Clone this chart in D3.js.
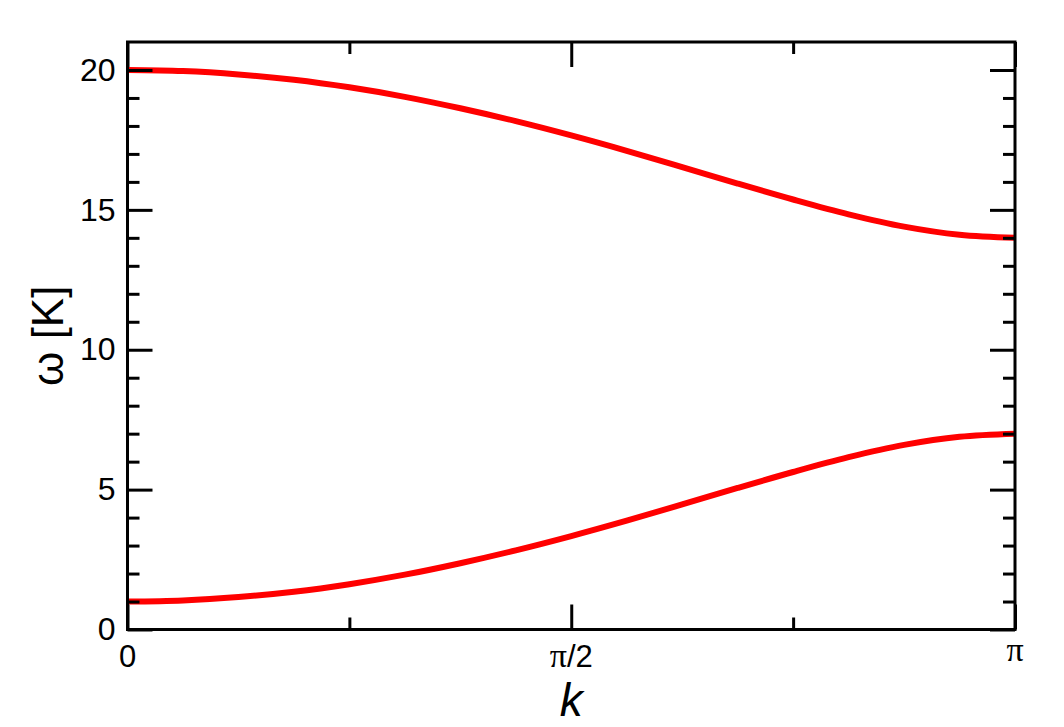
<!DOCTYPE html>
<html>
<head>
<meta charset="utf-8">
<script src="https://cdn.jsdelivr.net/npm/d3@7"></script>
<style>
  body { margin: 0; background: #fff; }
  text { font-family: "Liberation Sans", Arial, sans-serif; fill: #000; }
</style>
</head>
<body>
<svg id="chart" width="1064" height="727"></svg>
<script>
// k in units of pi
var kOverPi = [0, 0.0625, 0.125, 0.1875, 0.25, 0.3125, 0.375, 0.4375, 0.5,
               0.5625, 0.625, 0.6875, 0.75, 0.8125, 0.875, 0.9375, 1];
var upperBranch = [20.0, 19.96, 19.84, 19.65, 19.38, 19.04, 18.63, 18.17, 17.66,
                   17.11, 16.53, 15.94, 15.37, 14.84, 14.40, 14.11, 14.0];
var lowerBranch = [1.0, 1.04, 1.16, 1.35, 1.62, 1.96, 2.37, 2.83, 3.34,
                   3.89, 4.47, 5.06, 5.63, 6.16, 6.60, 6.89, 7.0];

var xMajorTicks = [0, 0.5, 1];
var xMajorLabels = ["0", "π/2", "π"];
var xMinorTicks = [0.25, 0.75];
var yMajorTicks = [0, 5, 10, 15, 20];
var yMinorTicks = [1, 2, 3, 4, 6, 7, 8, 9, 11, 12, 13, 14, 16, 17, 18, 19];

var plotLeft = 127.5, plotRight = 1015, plotTop = 42, plotBottom = 629.5;

var svg = d3.select("#chart");
var x = d3.scaleLinear().domain([0, 1]).range([plotLeft, plotRight]);
var y = d3.scaleLinear().domain([0, 21]).range([plotBottom, plotTop]);

// curves
var line = d3.line()
  .x(function(d) { return x(d.k); })
  .y(function(d) { return y(d.w); })
  .curve(d3.curveCatmullRom);

[upperBranch, lowerBranch].forEach(function(series) {
  var pts = series.map(function(v, i) { return {k: kOverPi[i], w: v}; });
  svg.append("path")
    .datum(pts)
    .attr("d", line)
    .attr("fill", "none")
    .attr("stroke", "#ff0000")
    .attr("stroke-width", 6);
});

// ticks on all four sides, pointing inward
function tickGroup(axis, tx, ty) {
  var g = svg.append("g").attr("transform", "translate(" + tx + "," + ty + ")").call(axis);
  g.select(".domain").remove();
  g.selectAll(".tick line").attr("stroke", "#000").attr("stroke-width", 3);
  return g;
}

var yl = tickGroup(d3.axisLeft(y).tickValues(yMajorTicks).tickSize(-25).tickPadding(12), plotLeft, 0);
yl.attr("font-size", null).attr("font-family", null);
yl.selectAll("text").attr("font-size", 32).attr("fill", "#000");
tickGroup(d3.axisLeft(y).tickValues(yMinorTicks).tickSize(-12).tickFormat(""), plotLeft, 0);
tickGroup(d3.axisRight(y).tickValues(yMajorTicks).tickSize(-25).tickFormat(""), plotRight, 0);
tickGroup(d3.axisRight(y).tickValues(yMinorTicks).tickSize(-12).tickFormat(""), plotRight, 0);

tickGroup(d3.axisBottom(x).tickValues(xMajorTicks).tickSize(-25).tickFormat(""), 0, plotBottom);
tickGroup(d3.axisBottom(x).tickValues(xMinorTicks).tickSize(-12).tickFormat(""), 0, plotBottom);
tickGroup(d3.axisTop(x).tickValues(xMajorTicks).tickSize(-25).tickFormat(""), 0, plotTop);
tickGroup(d3.axisTop(x).tickValues(xMinorTicks).tickSize(-12).tickFormat(""), 0, plotTop);

// x tick labels (pi set in a serif face)
xMajorTicks.forEach(function(v, i) {
  var lab = xMajorLabels[i];
  var t = svg.append("text")
    .attr("x", x(v))
    .attr("y", lab === "π" ? 661 : 667)
    .attr("text-anchor", "middle")
    .attr("font-size", 31);
  lab.split("").forEach(function(ch) {
    var s = t.append("tspan").text(ch);
    if (ch === "π") s.attr("font-family", "Liberation Serif, serif").attr("font-size", 34);
  });
});

// frame
svg.append("rect")
  .attr("x", plotLeft).attr("y", plotTop)
  .attr("width", plotRight - plotLeft).attr("height", plotBottom - plotTop)
  .attr("fill", "none").attr("stroke", "#000").attr("stroke-width", 3);

// axis titles
svg.append("text")
  .attr("transform", "translate(63," + ((plotTop + plotBottom) / 2) + ") rotate(-90)")
  .attr("text-anchor", "middle")
  .attr("font-size", 44)
  .text("ω [K]");

svg.append("text")
  .attr("x", x(0.5))
  .attr("y", 716)
  .attr("text-anchor", "middle")
  .attr("font-size", 46)
  .attr("font-style", "italic")
  .text("k");
</script>
</body>
</html>
